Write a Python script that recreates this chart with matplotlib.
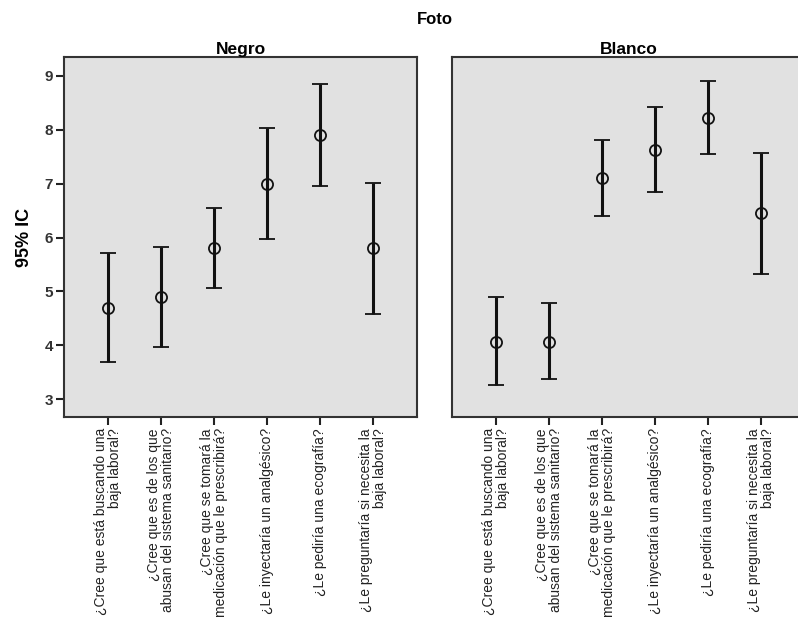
import numpy as np
import matplotlib
matplotlib.use("Agg")
import matplotlib.pyplot as plt

plt.rcParams['font.family'] = ['Liberation Sans', 'DejaVu Sans']

preguntas = [
    "¿Cree que está buscando una\nbaja laboral?",
    "¿Cree que es de los que\nabusan del sistema sanitario?",
    "¿Cree que se tomará la\nmedicación que le prescribirá?",
    "¿Le inyectaría un analgésico?",
    "¿Le pediría una ecografía?",
    "¿Le preguntaría si necesita la\nbaja laboral?",
]

# Negro
negro_media = [4.70, 4.90, 5.80, 7.00, 7.90, 5.80]
negro_inf = [3.69, 3.96, 5.07, 5.98, 6.96, 4.59]
negro_sup = [5.72, 5.83, 6.54, 8.03, 8.84, 7.01]

# Blanco
blanco_media = [4.07, 4.07, 7.11, 7.63, 8.22, 6.45]
blanco_inf = [3.27, 3.37, 6.40, 6.84, 7.55, 5.32]
blanco_sup = [4.89, 4.78, 7.81, 8.42, 8.90, 7.57]

W, H = 798, 620
fig = plt.figure(figsize=(W / 100, H / 100), dpi=100)

ax1 = fig.add_axes([64 / W, 1 - 417 / H, 353 / W, 360 / H])
ax2 = fig.add_axes([452 / W, 1 - 417 / H, 353 / W, 360 / H])

paneles = [
    (ax1, "Negro", negro_media, negro_inf, negro_sup),
    (ax2, "Blanco", blanco_media, blanco_inf, blanco_sup),
]

x = np.arange(len(preguntas))
for ax, titulo, media, inf, sup in paneles:
    media = np.array(media)
    err = [media - np.array(inf), np.array(sup) - media]
    ax.set_facecolor('#e1e1e1')
    ax.errorbar(x, media, yerr=err, fmt='o', mfc='none', mec='#111111',
                ms=8, mew=1.3, ecolor='#111111', elinewidth=2.2,
                capsize=5.5, capthick=2.2)
    ax.set_xlim(-0.82, 5.82)
    ax.set_ylim(2.67, 9.35)
    ax.set_yticks(range(3, 10))
    ax.set_xticks(x)
    ax.set_xticklabels(preguntas, rotation=90, ha='center', va='top',
                       multialignment='right', fontsize=10, color='#222222',
                       linespacing=1.0)
    ax.tick_params(axis='x', length=6, width=1.5, color='#222222', pad=2)
    ax.tick_params(axis='y', length=6, width=1.5, color='#222222', pad=2,
                   labelsize=11, labelcolor='#333333')
    for lbl in ax.get_yticklabels():
        lbl.set_fontweight('bold')
    for s in ax.spines.values():
        s.set_color('#333333')
        s.set_linewidth(1.5)
    ax.set_title(titulo, fontsize=12.5, fontweight='bold', pad=2)

ax2.tick_params(axis='y', left=False, labelleft=False)
ax1.set_ylabel("95% IC", fontsize=13, fontweight='bold', labelpad=8)

fig.text(435 / W, 1 - 20 / H, "Foto", ha='center', va='center',
         fontsize=12, fontweight='bold')

fig.savefig("out.png", dpi=100)
